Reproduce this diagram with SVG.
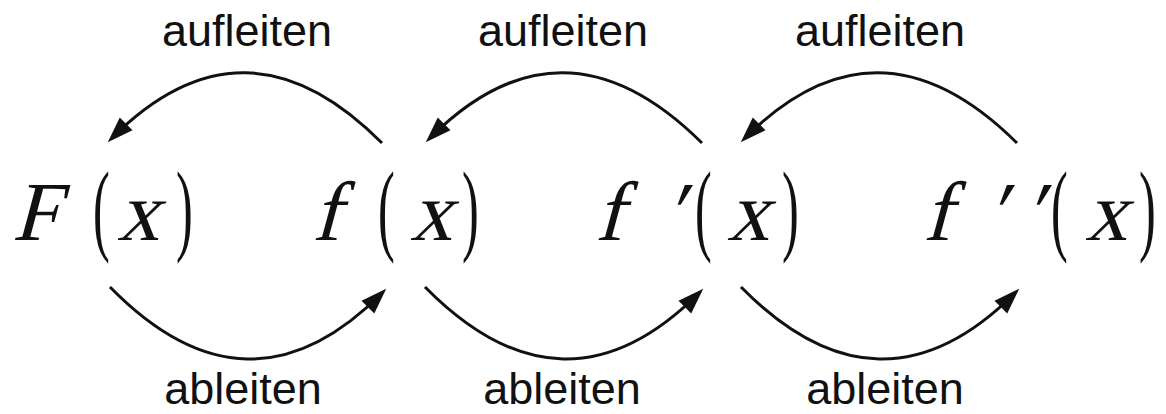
<svg xmlns="http://www.w3.org/2000/svg" width="1166" height="414" viewBox="0 0 1166 414">
<defs>
<style>
.lbl{font-family:"Liberation Sans",Arial,sans-serif;font-size:45px;fill:#111;text-anchor:middle}
.m{font-family:"Liberation Serif","Times New Roman",serif;font-size:84px;fill:#111}
.p{font-family:"Liberation Serif","Times New Roman",serif;font-size:84px;fill:#111}
.arc{fill:none;stroke:#111;stroke-width:3;marker-end:url(#ah)}
</style>
<marker id="ah" viewBox="0 0 26 18" refX="20" refY="9" markerWidth="26" markerHeight="18" markerUnits="userSpaceOnUse" orient="auto" overflow="visible">
<path d="M0,0 L26,9 L0,18 z" fill="#111"/>
</marker>
</defs>
<g id="connectors">
<path class="arc" d="M382,143 Q245,5 112,138"/>
<path class="arc" d="M702,143 Q563,5 430,138"/>
<path class="arc" d="M1017,143 Q878,5 745,138"/>
<path class="arc" d="M110,287 Q248,428 382,293"/>
<path class="arc" d="M425,287 Q564,428 699,293"/>
<path class="arc" d="M741,287 Q880,428 1015,293"/>
</g>
<g id="labels">
<text class="lbl" x="247" y="46">aufleiten</text>
<text class="lbl" x="563" y="46">aufleiten</text>
<text class="lbl" x="880" y="46">aufleiten</text>
<text class="lbl" x="243" y="404">ableiten</text>
<text class="lbl" x="562" y="404">ableiten</text>
<text class="lbl" x="885" y="404">ableiten</text>
</g>
<g id="node-F">
<text class="m" transform="translate(12,240) skewX(-15)">F</text>
<text class="p" transform="translate(93,242) scale(0.6,1.22)">(</text>
<text class="m" transform="translate(117,240) skewX(-15)">x</text>
<text class="p" transform="translate(176,242) scale(0.6,1.22)">)</text>
</g>
<g id="node-f">
<text class="m" transform="translate(312,240) skewX(-15)">f</text>
<text class="p" transform="translate(378,242) scale(0.6,1.22)">(</text>
<text class="m" transform="translate(410,240) skewX(-15)">x</text>
<text class="p" transform="translate(462,242) scale(0.6,1.22)">)</text>
</g>
<g id="node-f1">
<text class="m" transform="translate(595,240) skewX(-15)">f</text>
<text class="m" transform="translate(664,240) skewX(-15)">′</text>
<text class="p" transform="translate(695,242) scale(0.6,1.22)">(</text>
<text class="m" transform="translate(727,240) skewX(-15)">x</text>
<text class="p" transform="translate(782,242) scale(0.6,1.22)">)</text>
</g>
<g id="node-f2">
<text class="m" transform="translate(923,240) skewX(-15)">f</text>
<text class="m" transform="translate(986,240) skewX(-15)">′</text>
<text class="m" transform="translate(1023,240) skewX(-15)">′</text>
<text class="p" transform="translate(1051,242) scale(0.6,1.22)">(</text>
<text class="m" transform="translate(1085,240) skewX(-15)">x</text>
<text class="p" transform="translate(1139,242) scale(0.6,1.22)">)</text>
</g>
</svg>
